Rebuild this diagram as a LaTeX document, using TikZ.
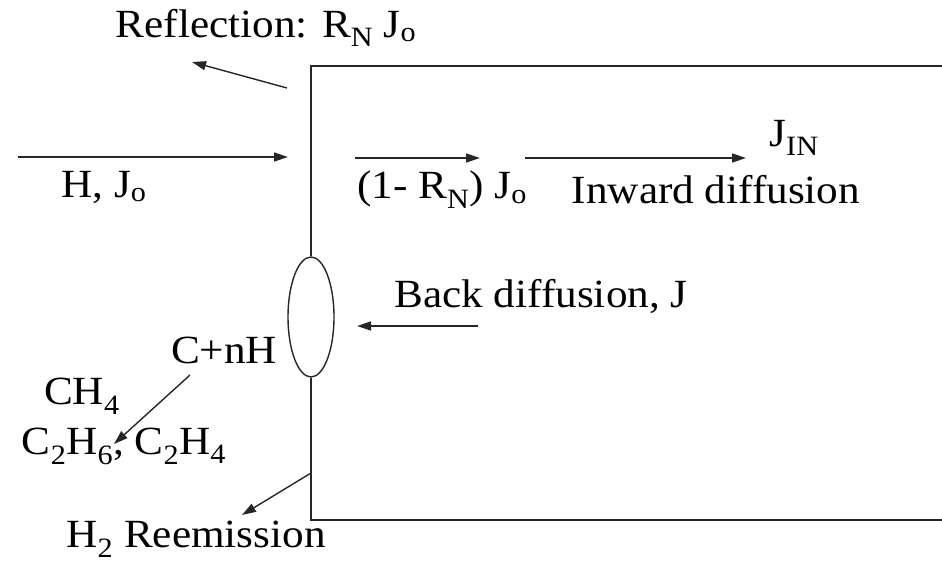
\documentclass[tikz,border=0pt]{standalone}
\usepackage{fontspec}
\setmainfont[FakeStretch=1.08]{Liberation Serif}
\usetikzlibrary{arrows.meta,shapes.geometric}
\newcommand{\sbs}[1]{\textsubscript{#1}}
\begin{document}
\begin{tikzpicture}[x=1pt,y=-1pt,
  lbl/.style={font=\fontsize{40}{46}\selectfont, inner sep=0pt, anchor=center},
  wall/.style={draw=black!85, line width=1.6pt},
  flow/.style={draw=black!85, line width=1.4pt, -{Triangle[length=14pt,width=9pt]}}]
\useasboundingbox (0,0) rectangle (942,564);
% wall and bulk
\coordinate (tr) at (942,66);
\coordinate (tl) at (311,66);
\coordinate (bl) at (311,520);
\coordinate (br) at (942,520);
\node[draw=black!85, line width=1.4pt, ellipse, minimum width=46pt, minimum height=120pt, inner sep=0pt] (spot) at (311,317) {};
\draw[wall] (tr) -- (tl) -- (spot.north);
\draw[wall] (spot.south) -- (bl) -- (br);
% labels
\node[lbl] (refl) at (266,28) {Reflection: R\sbs{N} J\sbs{o}};
\node[lbl] (hjo) at (104,187) {H, J\sbs{o}};
\node[lbl] (trans) at (442,190) {(1- R\sbs{N}) J\sbs{o}};
\node[lbl] (jin) at (794,138) {J\sbs{IN}};
\node[lbl] (inw) at (716,190) {Inward diffusion};
\node[lbl] (back) at (541,296) {Back diffusion, J};
\node[lbl] (cnh) at (224,350) {C+nH};
\node[lbl] (ch4) at (82,396) {CH\sbs{4}};
\node[lbl] (c2) at (124,446) {C\sbs{2}H\sbs{6}, C\sbs{2}H\sbs{4}};
\node[lbl] (h2) at (196,539) {H\sbs{2} Reemission};
% arrow end points
\coordinate (ra) at (287,88);  \coordinate (rb) at (192,62);
\coordinate (ha) at (18,157);  \coordinate (hb) at (288,157);
\coordinate (ta) at (355,158); \coordinate (tb) at (480,158);
\coordinate (ia) at (525,158); \coordinate (ib) at (746,158);
\coordinate (ba) at (478,326); \coordinate (bb) at (357,326);
\coordinate (ca) at (190,375); \coordinate (cb) at (114,444);
\coordinate (ea) at (311,473); \coordinate (eb) at (242,515);
% arrows
\draw[flow] (ra) -- (rb);
\draw[flow] (ha) -- (hb);
\draw[flow] (ta) -- (tb);
\draw[flow] (ia) -- (ib);
\draw[flow] (ba) -- (bb);
\draw[flow] (ca) -- (cb);
\draw[flow] (ea) -- (eb);
\end{tikzpicture}
\end{document}
